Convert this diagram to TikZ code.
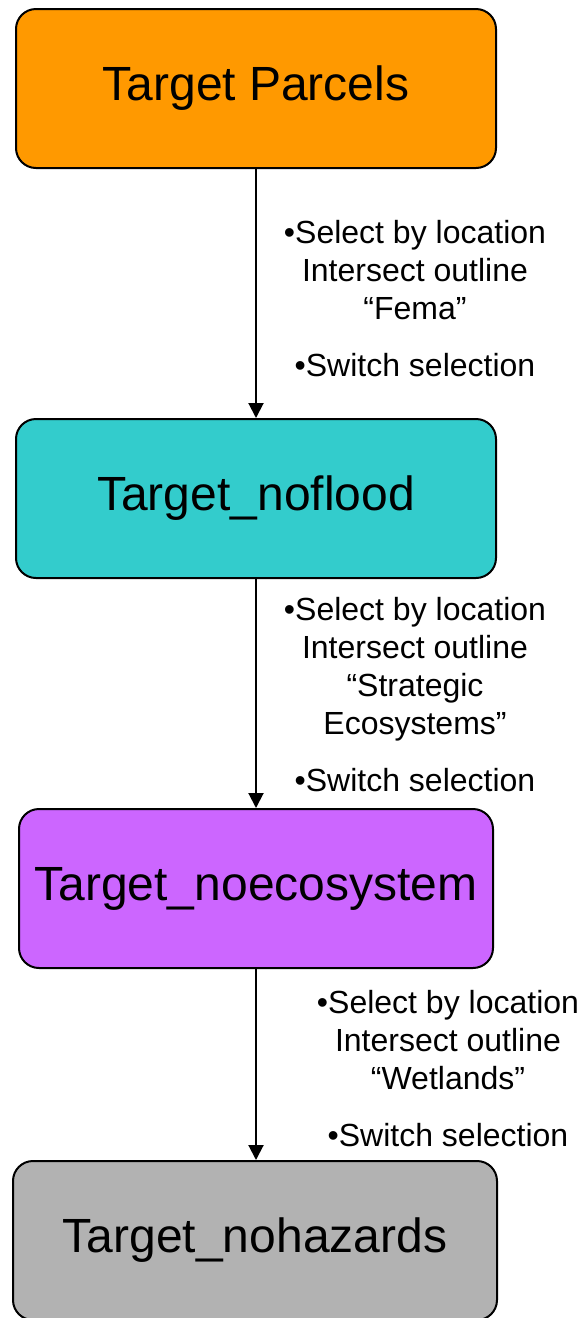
\documentclass[tikz,border=0pt]{standalone}
\usepackage{fontspec}
\setmainfont{Liberation Sans}
\usetikzlibrary{arrows.meta}
\definecolor{cOrange}{HTML}{FF9900}
\definecolor{cTeal}{HTML}{33CCCC}
\definecolor{cPurple}{HTML}{CC66FF}
\definecolor{cGray}{HTML}{B2B2B2}
\tikzset{
  stagebox/.style={draw=black, line width=2pt, rounded corners=20pt, inner sep=0pt,
    minimum height=159pt, font=\fontsize{48}{58}\selectfont},
  steplabel/.style={anchor=north, inner sep=0pt, align=center,
    font=\fontsize{32}{38}\selectfont},
  flowarrow/.style={draw=black, line width=2pt, -{Triangle[width=15pt,length=15pt]}}
}
\begin{document}
\begin{tikzpicture}[x=1pt,y=-1pt]
\useasboundingbox (0,0) rectangle (581,1318);
\node[stagebox, fill=cOrange, minimum width=480pt] (b1) at (256,88.5) {Target Parcels};
\node[stagebox, fill=cTeal, minimum width=480pt] (b2) at (256,498.5) {Target\_noflood};
\node[stagebox, fill=cPurple, minimum width=474pt] (b3) at (256,888.5) {Target\_noecosystem};
\node[stagebox, fill=cGray, minimum width=484pt] (b4) at (255,1240.5) {Target\_nohazards};

\draw[flowarrow] (b1.south) -- (b2.north);
\draw[flowarrow] (b2.south) -- (b3.north);
\draw[flowarrow] (b3.south) -- (b3.south |- b4.north);

\node[steplabel] (l1) at (415,220) {•Select by location\\Intersect outline\\“Fema”\\[19pt]•Switch selection};
\node[steplabel] (l2) at (415,597) {•Select by location\\Intersect outline\\“Strategic\\Ecosystems”\\[19pt]•Switch selection};
\node[steplabel] (l3) at (448,990) {•Select by location\\Intersect outline\\“Wetlands”\\[19pt]•Switch selection};
\end{tikzpicture}
\end{document}
